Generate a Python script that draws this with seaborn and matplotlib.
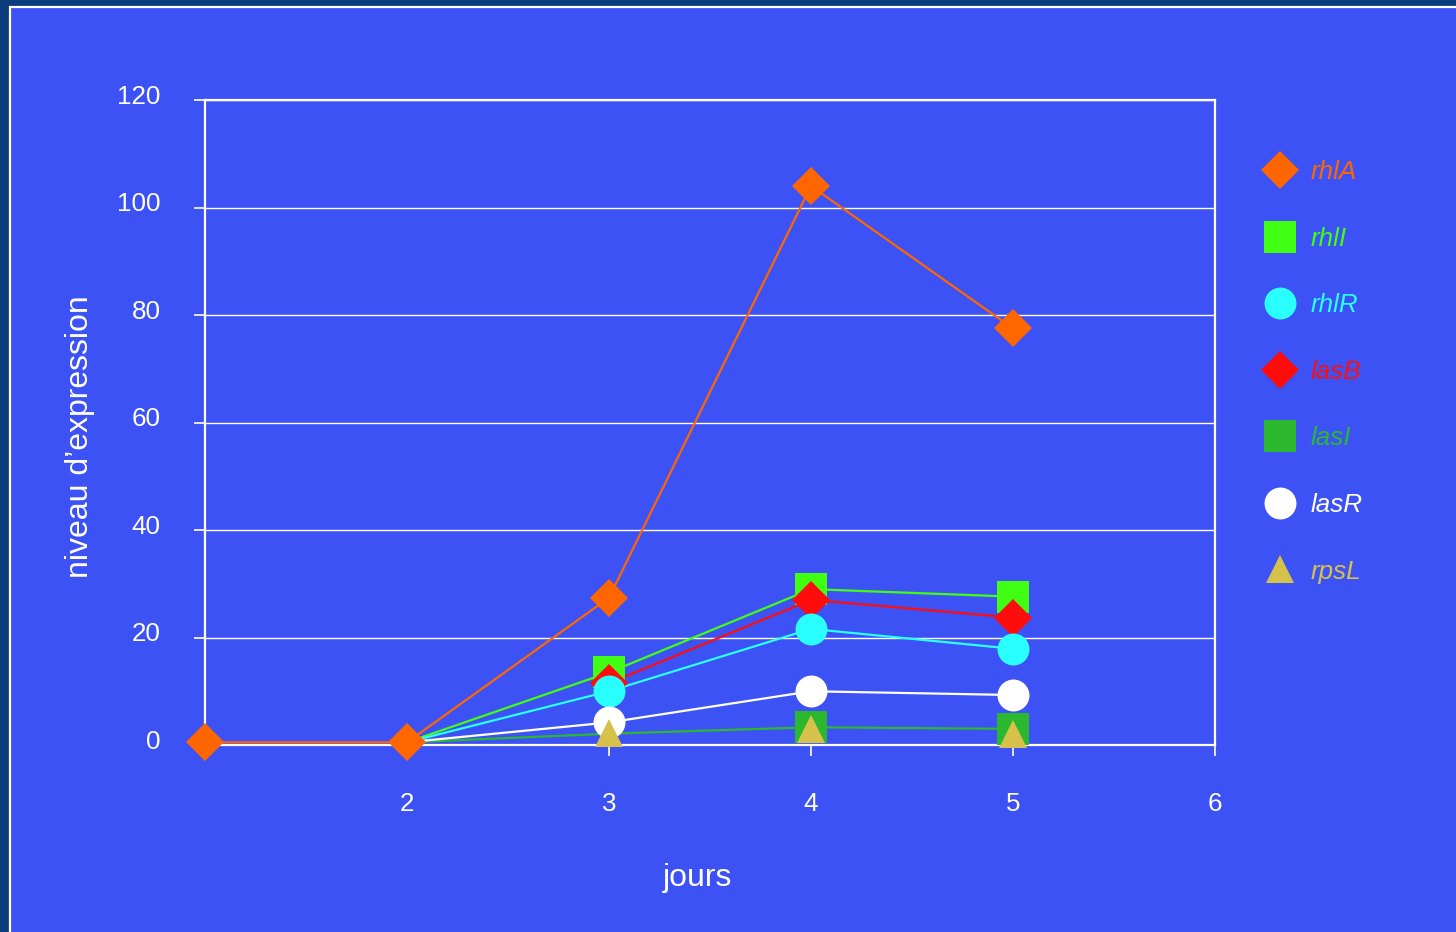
import matplotlib
matplotlib.use("Agg")
import matplotlib.pyplot as plt
from matplotlib.lines import Line2D
from matplotlib.patches import Rectangle
from matplotlib.transforms import ScaledTranslation
import pandas as pd
import seaborn as sns

# Expression levels per day for each gene (None = not measured)
days = [1, 2, 3, 4, 5]
genes = ["rhlA", "rhlI", "rhlR", "lasB", "lasI", "lasR", "rpsL"]
rhlA = [0.5, 0.5, 27.4, 104.0, 77.5]
rhlI = [None, 0.5, 13.5, 29.0, 27.6]
rhlR = [None, 0.5, 10.0, 21.6, 17.9]
lasB = [None, None, 11.5, 27.0, 23.7]
lasI = [None, 0.5, 2.1, 3.3, 3.0]
lasR = [None, 0.5, 4.2, 10.0, 9.3]
rpsL = [None, None, 2.3, 2.9, 2.0]
series = dict(rhlA=rhlA, rhlI=rhlI, rhlR=rhlR, lasB=lasB,
              lasI=lasI, lasR=lasR, rpsL=rpsL)

colors = {"rhlA": "#FF6600", "rhlI": "#40FF12", "rhlR": "#2AFFFF",
          "lasB": "#FF0D0D", "lasI": "#2CB82E", "lasR": "#FFFFFF",
          "rpsL": "#D6C24A"}
markers = {"rhlA": "D", "rhlI": "s", "rhlR": "o", "lasB": "D",
           "lasI": "s", "lasR": "o", "rpsL": "^"}
msizes = {"D": 19, "s": 23, "o": 23, "^": 20}
# series drawn with a connecting line, and days that carry a marker
with_line = ["rhlA", "rhlI", "rhlR", "lasB", "lasI", "lasR"]
marked_days = {"rhlA": [1, 2, 3, 4, 5], "rhlI": [3, 4, 5], "rhlR": [3, 4, 5],
               "lasB": [3, 4, 5], "lasI": [4, 5], "lasR": [3, 4, 5],
               "rpsL": [3, 4, 5]}
# drawing order of the marker layer (later = on top)
marker_order = ["lasI", "rhlI", "lasB", "rhlR", "lasR", "rpsL", "rhlA"]

rows = []
for g in genes:
    for d, v in zip(days, series[g]):
        if v is not None:
            rows.append({"jour": d, "niveau": v, "gene": g})
df = pd.DataFrame(rows)

sns.set_theme(style="white")
plt.rcParams["font.family"] = ["Liberation Sans", "DejaVu Sans"]

PANEL = "#3D52F4"
fig = plt.figure(figsize=(14.56, 9.32), dpi=100)
fig.patch.set_facecolor("#0B3C7C")
fig.add_artist(Rectangle((10 / 1456, -0.02), 1.1, 1 - 7 / 932 + 0.02,
                         transform=fig.transFigure, facecolor=PANEL,
                         edgecolor="white", linewidth=1.6, zorder=0))

ax = fig.add_axes([205 / 1456, 1 - 745 / 932, 1010 / 1456, 645 / 932])
ax.set_facecolor(PANEL)

# connecting lines
for g in with_line:
    sub = df[df.gene == g]
    sns.lineplot(data=sub, x="jour", y="niveau", ax=ax, color=colors[g],
                 linewidth=1.6, zorder=3, legend=False)

# point markers
for i, g in enumerate(marker_order):
    sub = df[(df.gene == g) & (df.jour.isin(marked_days[g]))]
    m = markers[g]
    sns.lineplot(data=sub, x="jour", y="niveau", ax=ax, color=colors[g],
                 linestyle="", marker=m, markersize=msizes[m],
                 markeredgewidth=0, zorder=4 + i, legend=False,
                 clip_on=False)

ax.set_xlim(1, 6)
ax.set_ylim(0, 120)
ax.set_xticks([1, 2, 3, 4, 5, 6])
ax.set_xticklabels(["", "2", "3", "4", "5", "6"])
ax.set_yticks(range(0, 121, 20))
ax.yaxis.grid(True, color="white", linewidth=1.0, zorder=1)
ax.set_axisbelow(True)
for s in ax.spines.values():
    s.set_color("white")
    s.set_linewidth(1.6)
ax.tick_params(axis="both", colors="white", labelsize=18.7, length=8,
               width=1.2, direction="out")
ax.tick_params(axis="x", pad=26, bottom=True)
ax.tick_params(axis="y", pad=24, left=True)
shift_up = ScaledTranslation(0, 4 / 72, fig.dpi_scale_trans)
for lab in ax.get_yticklabels():
    lab.set_transform(lab.get_transform() + shift_up)

ax.set_xlabel("jours", color="white", fontsize=23)
ax.set_ylabel("niveau d\u2019expression", color="white", fontsize=23)
ax.xaxis.label.set_va("center")
ax.yaxis.label.set_va("center")
ax.xaxis.set_label_coords((698 - 205) / 1010, (745 - 878) / 645)
ax.yaxis.set_label_coords((80 - 205) / 1010, (745 - 437) / 645)

handles = [Line2D([], [], linestyle="", marker=markers[g], color=colors[g],
                  markersize=msizes[markers[g]], markeredgewidth=0)
           for g in genes]
leg = fig.legend(handles, genes, loc="upper left",
                 bbox_to_anchor=(1266 / 1456, 1 - 160 / 932),
                 bbox_transform=fig.transFigure, frameon=False,
                 prop={"size": 18.7, "style": "italic"},
                 labelspacing=1.64, handlelength=1.1, handletextpad=0.6,
                 borderpad=0, borderaxespad=0)
for txt, g in zip(leg.get_texts(), genes):
    txt.set_color(colors[g])

fig.savefig("out.png", dpi=100, facecolor=fig.get_facecolor())
